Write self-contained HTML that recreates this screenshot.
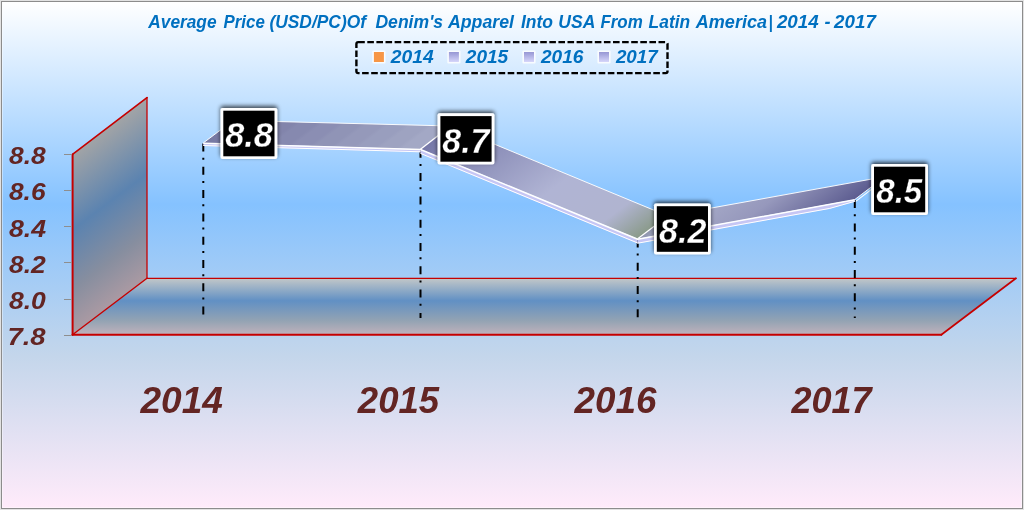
<!DOCTYPE html>
<html><head><meta charset="utf-8">
<style>
html,body{margin:0;padding:0;background:#fff;}
body{width:1024px;height:510px;overflow:hidden;}
svg{display:block;}
text{font-family:"Liberation Sans",sans-serif;font-weight:bold;font-style:italic;}
</style></head><body>
<svg width="1024" height="510" viewBox="0 0 1024 510">
<defs>
<linearGradient id="bg" x1="0" y1="0" x2="0" y2="1">
<stop offset="0" stop-color="#ffffff"/>
<stop offset="0.40" stop-color="#85c2ff"/>
<stop offset="0.70" stop-color="#c4d6eb"/>
<stop offset="1" stop-color="#ffebfa"/>
</linearGradient>
<linearGradient id="floor" x1="0" y1="278" x2="0" y2="335" gradientUnits="userSpaceOnUse">
<stop offset="0" stop-color="#c4c8c8"/>
<stop offset="0.40" stop-color="#6190c4"/>
<stop offset="0.75" stop-color="#93a3b3"/>
<stop offset="1" stop-color="#c2b2bc"/>
</linearGradient>
<linearGradient id="wall" x1="72" y1="154" x2="158.75" y2="270.2" gradientUnits="userSpaceOnUse">
<stop offset="0" stop-color="#a2a4a6"/>
<stop offset="0.42" stop-color="#5b83b0"/>
<stop offset="0.75" stop-color="#878e9f"/>
<stop offset="1" stop-color="#ab9aa3"/>
</linearGradient>
<linearGradient id="s1" x1="203.3" y1="142.9" x2="284.5" y2="251.2" gradientUnits="userSpaceOnUse">
<stop offset="0.012" stop-color="#787aa4"/><stop offset="0.088" stop-color="#787aa4"/>
<stop offset="0.112" stop-color="#7d7fa8"/><stop offset="0.188" stop-color="#7d7fa8"/>
<stop offset="0.212" stop-color="#8284ab"/><stop offset="0.288" stop-color="#8284ab"/>
<stop offset="0.312" stop-color="#8689af"/><stop offset="0.388" stop-color="#8689af"/>
<stop offset="0.412" stop-color="#8b8eb3"/><stop offset="0.488" stop-color="#8b8eb3"/>
<stop offset="0.512" stop-color="#9094b6"/><stop offset="0.588" stop-color="#9094b6"/>
<stop offset="0.612" stop-color="#9599ba"/><stop offset="0.688" stop-color="#9599ba"/>
<stop offset="0.712" stop-color="#999ebe"/><stop offset="0.788" stop-color="#999ebe"/>
<stop offset="0.812" stop-color="#9ea3c1"/><stop offset="0.888" stop-color="#9ea3c1"/>
<stop offset="0.912" stop-color="#a3a8c5"/><stop offset="0.988" stop-color="#a3a8c5"/>
</linearGradient>
<linearGradient id="s2" x1="420.5" y1="149.2" x2="541.7" y2="310.8" gradientUnits="userSpaceOnUse">
<stop offset="0" stop-color="#7678a8"/>
<stop offset="0.55" stop-color="#b0b4d4"/>
<stop offset="0.83" stop-color="#b0b4d0"/>
<stop offset="1" stop-color="#8a9a8a"/>
</linearGradient>
<linearGradient id="s3" x1="637.7" y1="238.8" x2="697.0" y2="317.9" gradientUnits="userSpaceOnUse">
<stop offset="0" stop-color="#8e94ac"/>
<stop offset="0.12" stop-color="#a6aac8"/>
<stop offset="0.5" stop-color="#9698bc"/>
<stop offset="1" stop-color="#5c5c90"/>
</linearGradient>
<linearGradient id="lm" x1="0" y1="0" x2="0" y2="1">
<stop offset="0" stop-color="#9797d4"/>
<stop offset="1" stop-color="#d6d6fa"/>
</linearGradient>
<filter id="sh" x="-20%" y="-20%" width="140%" height="140%">
<feGaussianBlur in="SourceAlpha" stdDeviation="1.9"/>
<feOffset dx="0" dy="-2.4" result="b"/>
<feComponentTransfer><feFuncA type="linear" slope="0.7"/></feComponentTransfer>
<feMerge><feMergeNode/><feMergeNode in="SourceGraphic"/></feMerge>
</filter>
</defs>

<!-- frame + background -->
<rect x="0" y="0" width="1024" height="510" fill="#e2e2e2"/>
<rect x="1" y="1" width="1022" height="508" fill="#8c8c8c"/>
<rect x="2" y="2" width="1020" height="506" fill="url(#bg)"/>
<rect x="2.5" y="2.5" width="1019" height="505" fill="none" stroke="#ffffff" stroke-opacity="0.4" stroke-width="1"/>

<!-- wall & floor -->
<polygon points="72.5,154.4 147,97.6 147,278.3 72.5,334.8" fill="url(#wall)"/>
<polygon points="147,278.3 1016,278.3 941.3,334.8 72.5,334.8" fill="url(#floor)"/>
<g stroke="#c60000" stroke-linecap="round" fill="none">
<line x1="72.6" y1="154.4" x2="72.6" y2="334.8" stroke-width="2"/>
<line x1="72.5" y1="154.4" x2="147" y2="97.6" stroke-width="1.7"/>
<line x1="147" y1="97.6" x2="147" y2="278.3" stroke-width="1.3"/>
<line x1="72.5" y1="334.8" x2="147" y2="278.3" stroke-width="1.4"/>
<line x1="147" y1="278.3" x2="1016" y2="278.3" stroke-width="1.3"/>
<line x1="72.5" y1="334.8" x2="941.3" y2="334.8" stroke-width="2"/>
<line x1="941.3" y1="334.8" x2="1016" y2="278.3" stroke-width="1.7"/>
</g>

<!-- ticks -->
<g stroke="#8e8e8e" stroke-width="1">
<line x1="64" y1="154.5" x2="72" y2="154.5"/><line x1="64" y1="190.5" x2="72" y2="190.5"/><line x1="64" y1="226.5" x2="72" y2="226.5"/><line x1="64" y1="262.5" x2="72" y2="262.5"/><line x1="64" y1="299.5" x2="72" y2="299.5"/><line x1="64" y1="335.5" x2="72" y2="335.5"/>
</g>
<g fill="#632523" font-size="24" opacity="0.999">
<text x="8.97" y="164.1" textLength="36.67" lengthAdjust="spacingAndGlyphs">8.8</text>
<text x="8.97" y="200.3" textLength="36.56" lengthAdjust="spacingAndGlyphs">8.6</text>
<text x="8.97" y="236.5" textLength="37.12" lengthAdjust="spacingAndGlyphs">8.4</text>
<text x="8.97" y="272.7" textLength="36.9" lengthAdjust="spacingAndGlyphs">8.2</text>
<text x="8.97" y="308.9" textLength="36.9" lengthAdjust="spacingAndGlyphs">8.0</text>
<text x="7.47" y="345.1" textLength="38.17" lengthAdjust="spacingAndGlyphs">7.8</text>
</g>

<!-- drop lines -->
<g stroke="#000" stroke-width="2" stroke-dasharray="8 6.2 2 7.1">
<line x1="203.3" y1="143.5" x2="203.3" y2="318"/><line x1="420.5" y1="149.8" x2="420.5" y2="318"/><line x1="637.7" y1="239.4" x2="637.7" y2="318"/><line x1="854.8" y1="200.1" x2="854.8" y2="318"/>
</g>

<!-- ribbon -->
<g stroke-linejoin="round">
<polygon points="203.3,142.9 420.5,149.2 450.5,126.0 233.3,120.4" fill="url(#s1)"/>
<polygon points="420.5,149.2 637.7,238.8 667.7,215.9 450.5,126.0" fill="url(#s2)"/>
<polygon points="637.7,238.8 854.8,199.5 884.8,176.7 667.7,215.9" fill="url(#s3)"/>
<g fill="none" stroke="#ffffff" stroke-width="1">
<polyline points="203.3,142.9 233.3,120.4 450.5,126.0 667.7,215.9 884.8,176.7 854.8,199.5" stroke-opacity="0.92"/>
<line x1="420.5" y1="149.2" x2="450.5" y2="126.0" stroke-width="1.4"/>
<line x1="637.7" y1="238.8" x2="667.7" y2="215.9" stroke-width="1.2"/>
</g>
<polygon points="203.3,142.9 420.5,149.2 420.5,152.2 203.3,145.9" fill="#c6c6f4"/><polygon points="420.5,149.2 637.7,238.8 637.7,243.4 420.5,153.8" fill="#c6c6f4"/><polygon points="637.7,238.8 854.8,199.5 854.8,201.7 829.8,208.8 637.7,243.6" fill="#c6c6f4"/>
<polyline points="420.5,151.8 203.3,145.5" fill="none" stroke="#fff" stroke-width="1"/><polyline points="637.7,243.0 420.5,153.4" fill="none" stroke="#fff" stroke-width="1"/><polyline points="854.8,201.3 829.8,208.4 637.7,243.2" fill="none" stroke="#fff" stroke-width="1"/>
<line x1="855.6999999999999" y1="201.4" x2="885.6999999999999" y2="178.6" stroke="#fff" stroke-width="1.1"/>
<polyline points="203.3,143.2 420.5,149.5 637.7,239.2 854.8,199.8" fill="none" stroke="#ffffff" stroke-width="1.5"/>
</g>

<!-- data labels -->
<g filter="url(#sh)">
<rect x="220.5" y="107.9" width="56.8" height="51.2" rx="2" fill="#fff"/><rect x="437.6" y="113.3" width="56.8" height="51.2" rx="2" fill="#fff"/><rect x="654.0" y="203.4" width="56.8" height="51.2" rx="2" fill="#fff"/><rect x="871.2" y="163.9" width="56.8" height="51.2" rx="2" fill="#fff"/>
</g>
<g fill="#000">
<rect x="223.3" y="110.7" width="51.2" height="45.6"/><rect x="440.4" y="116.1" width="51.2" height="45.6"/><rect x="656.8" y="206.2" width="51.2" height="45.6"/><rect x="874.0" y="166.7" width="51.2" height="45.6"/>
</g>
<g fill="#fff" font-size="34.5" opacity="0.999" stroke="#000" stroke-width="0.3" paint-order="fill stroke">
<text x="225.3" y="147.4" textLength="47.48" lengthAdjust="spacingAndGlyphs">8.8</text>
<text x="442.3" y="152.5" textLength="47.1" lengthAdjust="spacingAndGlyphs">8.7</text>
<text x="659" y="242.8" textLength="47.32" lengthAdjust="spacingAndGlyphs">8.2</text>
<text x="876.3" y="203.2" textLength="45.97" lengthAdjust="spacingAndGlyphs">8.5</text>
</g>

<!-- category labels -->
<g fill="#632523" font-size="37" opacity="0.999">
<text x="140.48" y="413.2" textLength="82.36" lengthAdjust="spacingAndGlyphs">2014</text>
<text x="357.87" y="413.2" textLength="81.23" lengthAdjust="spacingAndGlyphs">2015</text>
<text x="574.57" y="413.2" textLength="81.79" lengthAdjust="spacingAndGlyphs">2016</text>
<text x="791.46" y="413.2" textLength="80.12" lengthAdjust="spacingAndGlyphs">2017</text>
</g>

<!-- title -->
<g fill="#0070c0" font-size="18" opacity="0.999">
<text x="148.28" y="27.5" textLength="68.31" lengthAdjust="spacingAndGlyphs">Average</text>
<text x="223.52" y="27.5" textLength="41.27" lengthAdjust="spacingAndGlyphs">Price</text>
<text x="269.42" y="27.5" textLength="96.62" lengthAdjust="spacingAndGlyphs">(USD/PC)Of</text>
<text x="375.41" y="27.5" textLength="67.69" lengthAdjust="spacingAndGlyphs">Denim's</text>
<text x="447.99" y="27.5" textLength="66.01" lengthAdjust="spacingAndGlyphs">Apparel</text>
<text x="520.91" y="27.5" textLength="32.07" lengthAdjust="spacingAndGlyphs">Into</text>
<text x="558.33" y="27.5" textLength="37.04" lengthAdjust="spacingAndGlyphs">USA</text>
<text x="600.42" y="27.5" textLength="42.35" lengthAdjust="spacingAndGlyphs">From</text>
<text x="648.61" y="27.5" textLength="41.56" lengthAdjust="spacingAndGlyphs">Latin</text>
<text x="695.8" y="27.5" textLength="71.21" lengthAdjust="spacingAndGlyphs">America</text>
<text x="768.57" y="27.5" textLength="4.2" lengthAdjust="spacingAndGlyphs">|</text>
<text x="776.91" y="27.5" textLength="41.81" lengthAdjust="spacingAndGlyphs">2014</text>
<text x="824.5" y="27.5" textLength="5.99" lengthAdjust="spacingAndGlyphs">-</text>
<text x="834.11" y="27.5" textLength="41.76" lengthAdjust="spacingAndGlyphs">2017</text>
</g>

<!-- legend -->
<rect x="356.4" y="42.1" width="311.1" height="31" rx="1.8" fill="none" stroke="#000" stroke-width="2.4" stroke-dasharray="6.6 2.5"/>
<rect x="372.3" y="50.4" width="13.2" height="13.2" rx="1" fill="#ffffff" fill-opacity="0.8"/><rect x="447.3" y="50.4" width="13.2" height="13.2" rx="1" fill="#ffffff" fill-opacity="0.8"/><rect x="522.4" y="50.4" width="13.2" height="13.2" rx="1" fill="#ffffff" fill-opacity="0.8"/><rect x="597.4" y="50.4" width="13.2" height="13.2" rx="1" fill="#ffffff" fill-opacity="0.8"/>
<rect x="373.9" y="52" width="10" height="10" fill="#f79646"/>
<rect x="448.9" y="52" width="10" height="10" fill="url(#lm)"/><rect x="524.0" y="52" width="10" height="10" fill="url(#lm)"/><rect x="599.0" y="52" width="10" height="10" fill="url(#lm)"/>
<g fill="#0070c0" font-size="18" opacity="0.999">
<text x="390.72" y="62.6" textLength="42.9" lengthAdjust="spacingAndGlyphs">2014</text>
<text x="465.82" y="62.6" textLength="42.38" lengthAdjust="spacingAndGlyphs">2015</text>
<text x="540.92" y="62.6" textLength="42.48" lengthAdjust="spacingAndGlyphs">2016</text>
<text x="615.91" y="62.6" textLength="41.86" lengthAdjust="spacingAndGlyphs">2017</text>
</g>
</svg>
</body></html>
